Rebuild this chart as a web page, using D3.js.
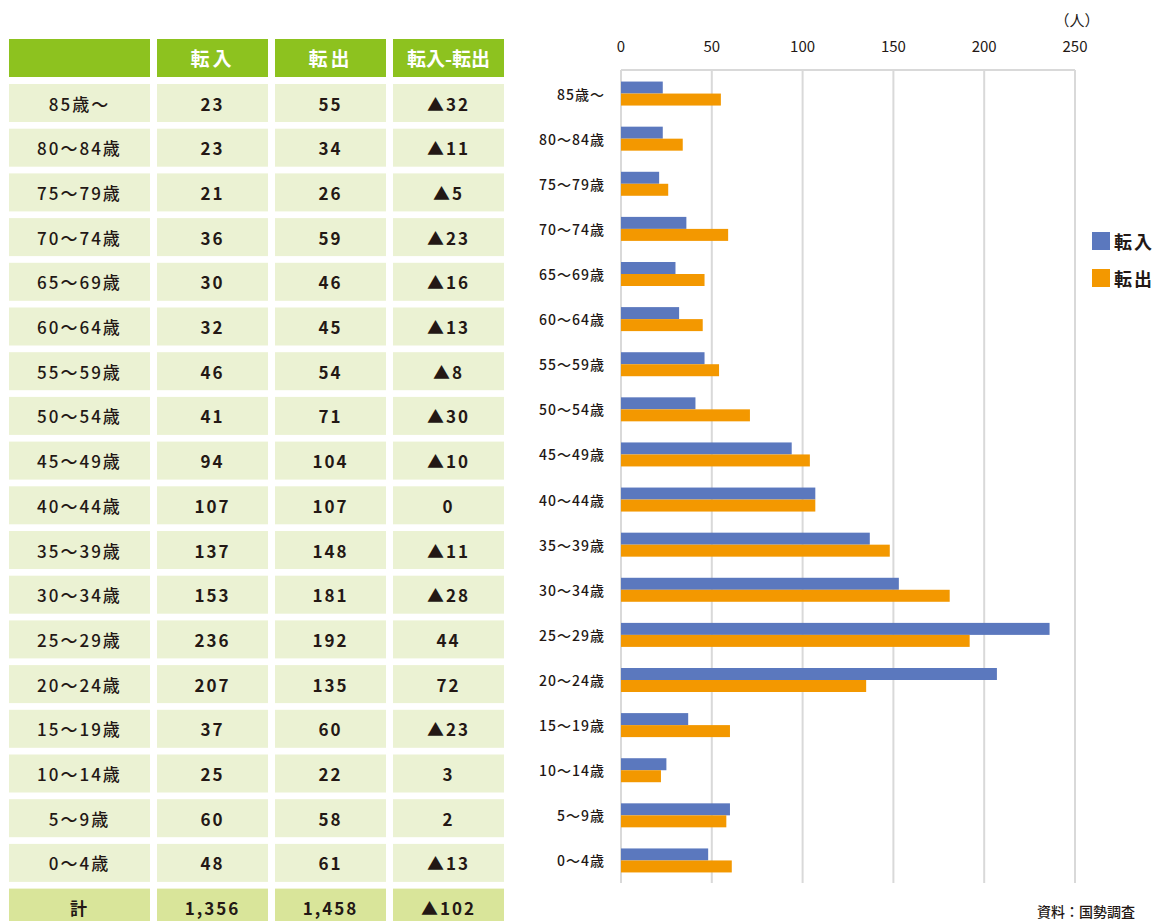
<!DOCTYPE html>
<html>
<head>
<meta charset="utf-8">
<script src="https://cdn.jsdelivr.net/npm/d3@7"></script>
<style>
  body { margin: 0; background: #fff; }
  svg { display: block; font-family: "Noto Sans CJK JP", "Noto Sans", sans-serif; }
</style>
</head>
<body>
<svg id="chart" width="1160" height="921"></svg>
<script>
// age groups, top to bottom
let ages = ["85歳～", "80～84歳", "75～79歳", "70～74歳", "65～69歳", "60～64歳", "55～59歳",
    "50～54歳", "45～49歳", "40～44歳", "35～39歳", "30～34歳", "25～29歳", "20～24歳",
    "15～19歳", "10～14歳", "5～9歳", "0～4歳"];
let tennyu = [23, 23, 21, 36, 30, 32, 46, 41, 94, 107, 137, 153, 236, 207, 37, 25, 60, 48];
let tenshutsu = [55, 34, 26, 59, 46, 45, 54, 71, 104, 107, 148, 181, 192, 135, 60, 22, 58, 61];
let seriesNames = ["転入", "転出"];
let headers = ["", "転入", "転出", "転入-転出"];
let xTicks = [0, 50, 100, 150, 200, 250];

const colors = ["#5b78be", "#f39800"];

function fmtDiff(v) {
    if (v < 0) return "▲" + d3.format(",")(-v);
    return d3.format(",")(v);
}

function main() {
    var svg = d3.select("#chart");

    // ---------- table ----------
    var cols = [{x: 9, w: 141}, {x: 157, w: 111}, {x: 275, w: 111}, {x: 393, w: 111}];
    var rowY = d3.scaleLinear().domain([0, 1]).range([84, 128.7]);

    var head = svg.append("g");
    head.selectAll("rect").data(headers).enter().append("rect")
        .attr("x", (d, i) => cols[i].x).attr("y", 39)
        .attr("width", (d, i) => cols[i].w).attr("height", 38)
        .attr("fill", "#8dc21f");
    head.selectAll("text").data(headers).enter().append("text")
        .attr("x", (d, i) => cols[i].x + cols[i].w / 2).attr("y", 57)
        .attr("text-anchor", "middle").attr("dominant-baseline", "central")
        .attr("fill", "#fff").attr("font-size", 19).attr("font-weight", "bold")
        .attr("letter-spacing", (d, i) => i == 3 ? 0 : 3)
        .text(d => d);

    var rows = ages.map((a, i) => [a, tennyu[i], tenshutsu[i], fmtDiff(tennyu[i] - tenshutsu[i])]);
    rows.push(["計", d3.format(",")(d3.sum(tennyu)), d3.format(",")(d3.sum(tenshutsu)),
        fmtDiff(d3.sum(tennyu) - d3.sum(tenshutsu))]);

    var rg = svg.selectAll(".trow").data(rows).enter().append("g")
        .attr("class", "trow")
        .attr("transform", (d, i) => "translate(0," + rowY(i) + ")");
    rg.each(function(row, ri) {
        var g = d3.select(this);
        var total = ri == rows.length - 1;
        g.selectAll("rect").data(row).enter().append("rect")
            .attr("x", (d, i) => cols[i].x).attr("y", 0)
            .attr("width", (d, i) => cols[i].w).attr("height", 38)
            .attr("fill", total ? "#d9e59a" : "#ebf2d3");
        g.selectAll("text").data(row).enter().append("text")
            .attr("x", (d, i) => cols[i].x + cols[i].w / 2).attr("y", 19)
            .attr("text-anchor", "middle").attr("dominant-baseline", "central")
            .attr("fill", "#231815").attr("font-size", 17)
            .attr("font-weight", (d, i) => (i == 0 && !total) ? "500" : "bold")
            .attr("letter-spacing", 2)
            .text(d => d);
    });

    // ---------- bar chart ----------
    var x = d3.scaleLinear().domain([0, 250]).range([621, 1075]);
    var y = d3.scaleBand().domain(ages).range([71, 883]);
    var barH = 12;

    var grid = svg.append("g");
    grid.selectAll("line.v").data(xTicks).enter().append("line")
        .attr("x1", d => x(d)).attr("x2", d => x(d))
        .attr("y1", 70).attr("y2", 883)
        .attr("stroke", "#d9d9d9").attr("stroke-width", 2);
    grid.append("line")
        .attr("x1", x(0)).attr("x2", x(250)).attr("y1", 70).attr("y2", 70)
        .attr("stroke", "#d9d9d9").attr("stroke-width", 2);

    svg.append("g").selectAll("text").data(xTicks).enter().append("text")
        .attr("x", d => x(d)).attr("y", 45)
        .attr("text-anchor", "middle").attr("dominant-baseline", "central")
        .attr("font-size", 15).attr("fill", "#231815")
        .text(d => d);

    svg.append("text").attr("x", 1077).attr("y", 19)
        .attr("text-anchor", "middle").attr("dominant-baseline", "central")
        .attr("font-size", 15).attr("fill", "#231815").text("（人）");

    var series = [tennyu, tenshutsu];
    series.forEach(function(vals, s) {
        svg.append("g").selectAll("rect").data(vals).enter().append("rect")
            .attr("x", x(0))
            .attr("y", (d, i) => y(ages[i]) + y.bandwidth() / 2 - barH + s * barH)
            .attr("width", d => x(d) - x(0))
            .attr("height", barH)
            .attr("fill", colors[s]);
    });

    svg.append("g").selectAll("text").data(ages).enter().append("text")
        .attr("x", 605).attr("y", d => y(d) + y.bandwidth() / 2)
        .attr("text-anchor", "end").attr("dominant-baseline", "central")
        .attr("font-size", 14).attr("font-weight", "500").attr("fill", "#231815").attr("letter-spacing", 1)
        .text(d => d);

    // legend
    var lg = svg.append("g").selectAll("g").data(seriesNames).enter().append("g")
        .attr("transform", (d, i) => "translate(1092," + (232 + i * 37) + ")");
    lg.append("rect").attr("width", 18).attr("height", 18).attr("fill", (d, i) => colors[i]);
    lg.append("text").attr("x", 22).attr("y", 9)
        .attr("dominant-baseline", "central").attr("font-size", 18).attr("font-weight", "bold")
        .attr("letter-spacing", 2).attr("fill", "#231815").text(d => d);

    svg.append("text").attr("x", 1135).attr("y", 917)
        .attr("text-anchor", "end").attr("font-size", 14).attr("font-weight", "500").attr("fill", "#231815")
        .text("資料：国勢調査");
}

main();
</script>
</body>
</html>
